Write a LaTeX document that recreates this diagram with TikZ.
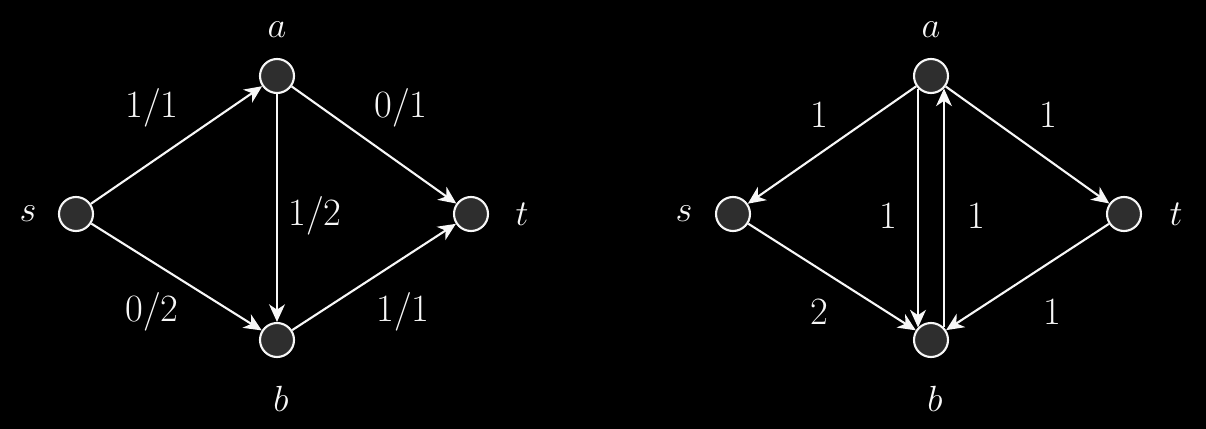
\documentclass[tikz,border=0pt]{standalone}
\usetikzlibrary{arrows.meta}
\definecolor{bgBlack}{HTML}{000000}
\definecolor{vertexFill}{HTML}{2E2E2E}
\definecolor{lineWhite}{HTML}{F7F7F7}

\begin{document}
\begin{tikzpicture}[
    x=0.02cm, y=-0.02cm,
    font=\fontsize{22}{26}\selectfont,
    >={Stealth[length=10pt, width=9pt, inset=3pt]},
    vertexNode/.style={
        circle, draw=lineWhite, line width=1.2pt,
        fill=vertexFill,
        minimum size=0.68cm, inner sep=0pt
    },
    nameNode/.style={text=lineWhite, inner sep=1pt},
    capNode/.style={text=lineWhite, inner sep=1pt},
    flow/.style={->, draw=lineWhite, line width=1.2pt}
]

% background also fixes the page size
\fill[bgBlack] (0,0) rectangle (1206,429);

% flow network
\node[vertexNode] (S) at (76,214) {};
\node[vertexNode] (A) at (277,76) {};
\node[vertexNode] (B) at (277,340) {};
\node[vertexNode] (T) at (471,214) {};

\node[nameNode] (SName) at (28,214) {$s$};
\node[nameNode] (AName) at (277,30) {$a$};
\node[nameNode] (BName) at (281,399) {$b$};
\node[nameNode] (TName) at (522,214) {$t$};

\draw[flow] (S) -- (A);
\draw[flow] (S) -- (B);
\draw[flow] (A) -- (B);
\draw[flow] (A) -- (T);
\draw[flow] (B) -- (T);

\node[capNode] (SACap) at (152,108) {1/1};
\node[capNode] (ATCap) at (401,108) {0/1};
\node[capNode] (ABCap) at (315,216) {1/2};
\node[capNode] (SBCap) at (152,312) {0/2};
\node[capNode] (BTCap) at (403,312) {1/1};

% residual network
\node[vertexNode] (RS) at (733,214) {};
\node[vertexNode] (RA) at (931,76) {};
\node[vertexNode] (RB) at (931,340) {};
\node[vertexNode] (RT) at (1124,214) {};

\node[nameNode] (RSName) at (684,214) {$s$};
\node[nameNode] (RAName) at (931,30) {$a$};
\node[nameNode] (RBName) at (935,399) {$b$};
\node[nameNode] (RTName) at (1176,214) {$t$};

\draw[flow] (RA) -- (RS);
\draw[flow] (RS) -- (RB);
\draw[flow] (RA) -- (RT);
\draw[flow] (RT) -- (RB);
\draw[flow] (RA.-136) -- (RB.136);
\draw[flow] (RB.44) -- (RA.-44);

\node[capNode] (RASCap) at (819,115) {1};
\node[capNode] (RATCap) at (1048,115) {1};
\node[capNode] (RABCap) at (888,216) {1};
\node[capNode] (RBACap) at (976,216) {1};
\node[capNode] (RSBCap) at (819,312) {2};
\node[capNode] (RTBCap) at (1052,312) {1};

\end{tikzpicture}
\end{document}
